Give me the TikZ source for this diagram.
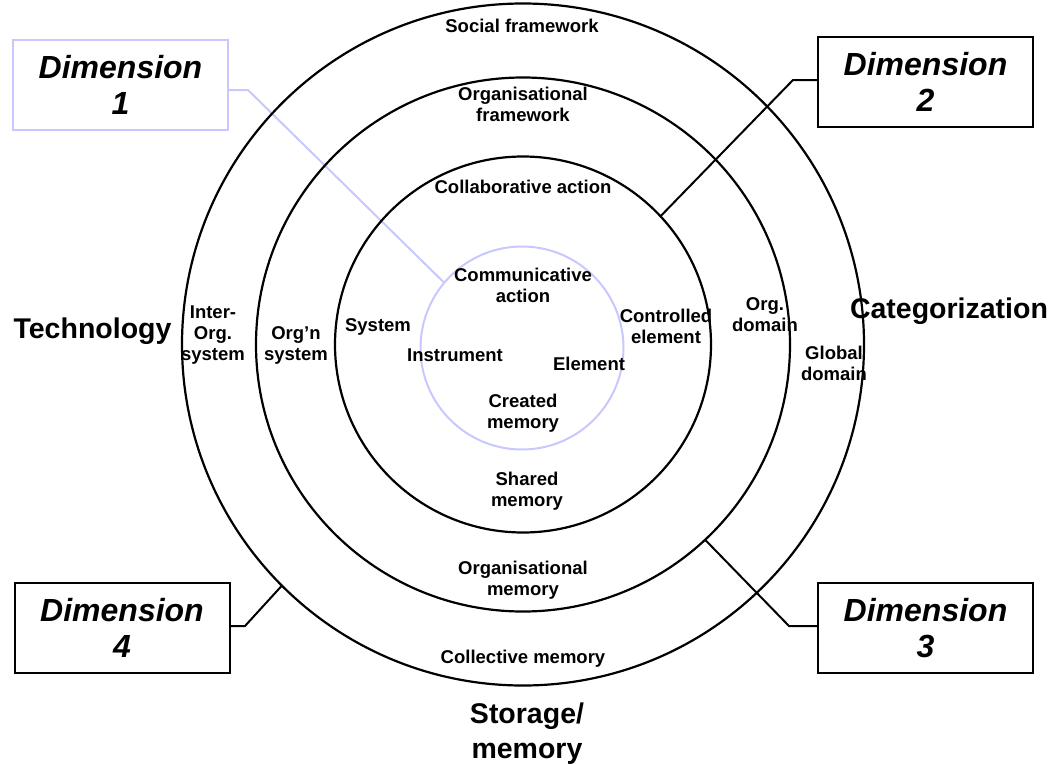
\documentclass[tikz,border=0pt]{standalone}
\usepackage{fontspec}
\setmainfont{Liberation Sans}
\definecolor{lav}{RGB}{200,200,255}
\begin{document}
\begin{tikzpicture}[x=1pt,y=-1pt,
  ring/.style={circle, draw, line width=2.2pt, inner sep=0pt, outer sep=0pt},
  lbl/.style={font=\bfseries\fontsize{18.5}{21}\selectfont, align=center, inner sep=0pt},
  axislbl/.style={font=\bfseries\fontsize{28.5}{35}\selectfont, align=center, inner sep=0pt},
  dimbox/.style={draw, line width=2pt, minimum width=215pt, minimum height=90pt,
    inner sep=0pt, outer sep=0pt, align=center, font=\bfseries\itshape\fontsize{32}{36}\selectfont},
  link/.style={line width=2pt},
]
\useasboundingbox (0,0) rectangle (1060,763);

% innermost (communicative) ring and its callout
\node[ring, draw=lav, line width=2pt, minimum size=203pt] (lav) at (522,348) {};
\node[dimbox, draw=lav] (d1) at (120.5,85) {Dimension\\1};
\coordinate (b1) at (248,90);
\draw[link, lav] (d1.east |- b1) -- (b1) -- (lav.140.6);

% the three framework rings
\node[ring, minimum size=682pt] (outer) at (523,344.5) {};
\node[ring, minimum size=534pt] (middle) at (523,344.5) {};
\node[ring, minimum size=376pt] (inner) at (523,344.5) {};

% dimension callouts
\node[dimbox] (d2) at (925.5,82) {Dimension\\2};
\node[dimbox] (d3) at (925.5,628) {Dimension\\3};
\node[dimbox] (d4) at (122,628) {Dimension\\4};
\coordinate (b2) at (793,80);
\coordinate (b3) at (789,626);
\coordinate (b4) at (245,626);
\draw[link] (d2.west |- b2) -- (b2) -- (inner.43.8);
\draw[link] (d3.west |- b3) -- (b3) -- (middle.-47.3);
\draw[link] (d4.east |- b4) -- (b4) -- (outer.225.4);

% ring labels
\node[lbl] (social) at (522,26) {Social framework};
\node[lbl] (orgfw) at (523,104) {Organisational\\framework};
\node[lbl] (collab) at (523,187) {Collaborative action};
\node[lbl] (commun) at (523,285) {Communicative\\action};
\node[lbl] (ctrl) at (666,326) {Controlled\\element};
\node[lbl] (system) at (378,327) {System};
\node[lbl] (instr) at (455,355) {Instrument};
\node[lbl] (elem) at (589,364) {Element};
\node[lbl] (created) at (523,413) {Created\\memory};
\node[lbl] (shared) at (527,491) {Shared\\memory};
\node[lbl] (orgmem) at (523,580) {Organisational\\memory};
\node[lbl] (collect) at (523,659) {Collective memory};
\node[lbl] (inter) at (213,335) {Inter-\\Org.\\system};
\node[lbl] (orgn) at (296,345) {Org’n\\system};
\node[lbl] (orgdom) at (765,315) {Org.\\domain};
\node[lbl] (global) at (834,363) {Global\\domain};

% axis labels
\node[axislbl] (tech) at (92.5,331) {Technology};
\node[axislbl] (categ) at (949,311) {Categorization};
\node[axislbl] (storage) at (527,734) {Storage/\\memory};
\end{tikzpicture}
\end{document}
